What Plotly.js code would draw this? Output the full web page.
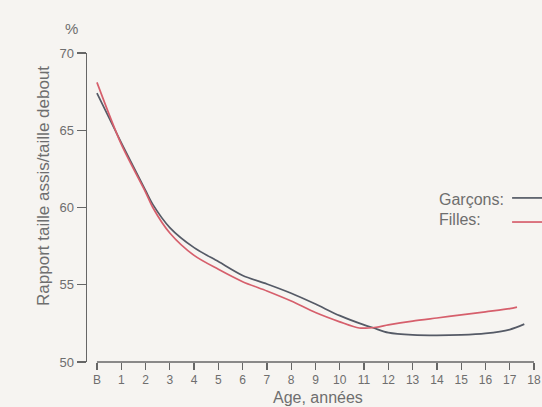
<!DOCTYPE html>
<html>
<head>
<meta charset="utf-8">
<script src="https://cdn.plot.ly/plotly-3.0.1.min.js"></script>
<style>html,body{margin:0;padding:0;background:#f6f4f1;}</style>
</head>
<body>
<div id="chart" style="width:542px;height:407px;"></div>
<script>
// Data
const garconsAges = [0, 1, 2, 2.3, 3, 4, 5, 6, 7, 8, 9, 10, 11, 11.4, 12, 13, 14, 15, 16, 17, 17.6];
const garconsVals = [67.4, 64.2, 61.1, 60.2, 58.7, 57.4, 56.5, 55.6, 55.05, 54.45, 53.75, 53.0, 52.4, 52.2, 51.9, 51.75, 51.72, 51.75, 51.85, 52.1, 52.45];
const fillesAges = [0, 1, 2, 2.3, 3, 4, 5, 6, 7, 8, 9, 10, 10.8, 11.5, 12, 13, 14, 15, 16, 17, 17.3];
const fillesVals = [68.1, 64.1, 61.0, 60.0, 58.35, 56.9, 56.0, 55.2, 54.6, 53.95, 53.2, 52.6, 52.2, 52.25, 52.4, 52.65, 52.85, 53.05, 53.25, 53.45, 53.55];
const xTickVals = [0,1,2,3,4,5,6,7,8,9,10,11,12,13,14,15,16,17,18];
const xTickText = ['B','1','2','3','4','5','6','7','8','9','10','11','12','13','14','15','16','17','18'];
const yTickVals = [50, 55, 60, 65, 70];
const seriesNames = ['Garçons:', 'Filles:'];
const seriesColors = ['#555a66', '#d65f6c'];

const FONT = 'Liberation Sans, Arial, sans-serif';
const TXT = '#6e6e6e';

const traces = [
  {x: garconsAges, y: garconsVals, name: seriesNames[0], mode: 'lines',
   line: {color: seriesColors[0], width: 1.7, shape: 'spline', smoothing: 0.8}},
  {x: fillesAges, y: fillesVals, name: seriesNames[1], mode: 'lines',
   line: {color: seriesColors[1], width: 1.7, shape: 'spline', smoothing: 0.8}}
];

const layout = {
  width: 542, height: 407,
  margin: {l: 87, r: 8, t: 53, b: 45},
  paper_bgcolor: '#f6f4f1', plot_bgcolor: '#f6f4f1',
  showlegend: false,
  font: {family: FONT, color: TXT},
  xaxis: {
    range: [-0.41, 18], tickvals: xTickVals, ticktext: xTickText,
    ticks: 'outside', ticklen: 7, tickwidth: 1.3, tickcolor: '#666',
    showline: false, showgrid: false, zeroline: false,
    tickfont: {size: 12, color: TXT, family: FONT}
  },
  yaxis: {
    range: [50, 70], tickvals: yTickVals,
    ticks: 'outside', ticklen: 9, tickwidth: 1.3, tickcolor: '#666',
    showline: true, linecolor: '#666', linewidth: 1.5,
    showgrid: false, zeroline: false,
    tickfont: {size: 13, color: TXT, family: FONT}
  },
  shapes: [
    {type: 'line', xref: 'x', yref: 'paper', x0: 0, x1: 18, y0: 0, y1: 0,
     line: {color: '#666', width: 1.5}},
    {type: 'line', xref: 'paper', yref: 'paper', x0: 0.951, x1: 1.02, y0: 0.531, y1: 0.531,
     line: {color: seriesColors[0], width: 1.7}},
    {type: 'line', xref: 'paper', yref: 'paper', x0: 0.951, x1: 1.02, y0: 0.453, y1: 0.453,
     line: {color: seriesColors[1], width: 1.7}}
  ],
  annotations: [
    {text: '%', xref: 'paper', yref: 'paper', x: -0.034, y: 1.078,
     showarrow: false, xanchor: 'center', yanchor: 'middle', font: {size: 15, color: TXT}},
    {text: 'Rapport taille assis/taille debout', xref: 'paper', yref: 'paper',
     x: -0.096, y: 0.57, textangle: -90, showarrow: false,
     xanchor: 'center', yanchor: 'middle', font: {size: 17, color: TXT}},
    {text: 'Age, années', xref: 'paper', yref: 'paper', x: 0.517, y: -0.116,
     showarrow: false, xanchor: 'center', yanchor: 'middle', font: {size: 16, color: TXT}},
    {text: seriesNames[0], xref: 'paper', yref: 'paper', x: 0.783, y: 0.527,
     showarrow: false, xanchor: 'left', yanchor: 'middle', font: {size: 16, color: TXT}},
    {text: seriesNames[1], xref: 'paper', yref: 'paper', x: 0.783, y: 0.46,
     showarrow: false, xanchor: 'left', yanchor: 'middle', font: {size: 16, color: TXT}}
  ]
};

Plotly.newPlot('chart', traces, layout, {displayModeBar: false, staticPlot: true});
</script>
</body>
</html>
